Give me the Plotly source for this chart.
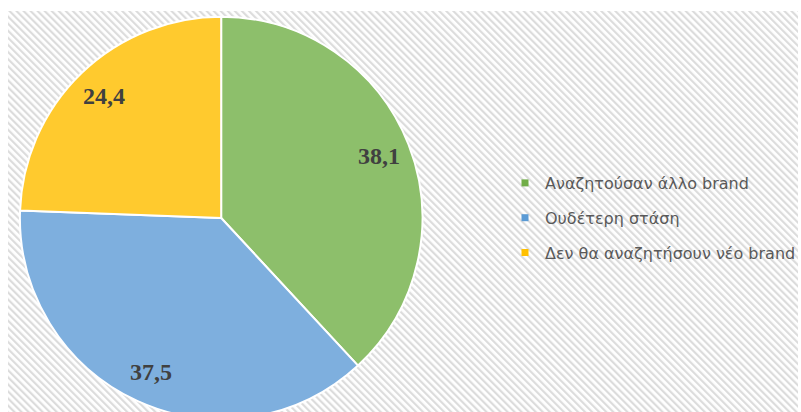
import base64
import math
import plotly.graph_objects as go

# data
labels = ["Αναζητούσαν άλλο brand", "Ουδέτερη στάση", "Δεν θα αναζητήσουν νέο brand"]
values = [38.1, 37.5, 24.4]
colors = ["#8dbf6b", "#7eafde", "#ffca2e"]
legend_colors = ["#70ad47", "#5b9bd5", "#ffc000"]

W, H = 801, 420

# pie placement (pixels)
cx, cy, r = 222, 218, 202

# hatched chart-area background (Excel "wide downward diagonal")
hatch_svg = (
    '<svg xmlns="http://www.w3.org/2000/svg" width="793" height="409" '
    'preserveAspectRatio="none">'
    '<defs><pattern id="p" width="5" height="5" patternUnits="userSpaceOnUse" '
    'patternTransform="rotate(-45)">'
    '<rect width="5" height="5" fill="#ffffff"/>'
    '<rect width="2.2" height="5" fill="#dcdcdc"/></pattern></defs>'
    '<rect width="793" height="409" fill="url(#p)"/></svg>'
)
hatch_src = "data:image/svg+xml;base64," + base64.b64encode(hatch_svg.encode()).decode()

fig = go.Figure()

fig.add_trace(
    go.Pie(
        labels=labels,
        values=values,
        sort=False,
        direction="clockwise",
        rotation=0,
        marker=dict(colors=colors, line=dict(color="white", width=2)),
        textinfo="none",
        hoverinfo="label+value",
        showlegend=False,
        domain=dict(x=[(cx - r) / W, (cx + r) / W], y=[0, 1 - (cy - r) / H]),
    )
)

# data labels placed out toward the rim, like Excel does
total = sum(values)
start = 0.0
annotations = []
for v in values:
    mid = (start + v / 2) / total * 2 * math.pi
    start += v
    px = cx + 0.84 * r * math.sin(mid)
    py = cy - 0.84 * r * math.cos(mid)
    annotations.append(
        dict(
            x=px / W,
            y=1 - py / H,
            xref="paper",
            yref="paper",
            xanchor="center",
            yanchor="middle",
            text=f"{v:.1f}".replace(".", ","),
            showarrow=False,
            font=dict(family="Liberation Serif", size=24, color="#404040", weight="bold"),
        )
    )

# legend entries with small square swatches
for i, (name, c) in enumerate(zip(labels, legend_colors)):
    fig.add_trace(
        go.Scatter(
            x=[None],
            y=[None],
            mode="markers",
            marker=dict(symbol="square", size=7, color=c),
            name=name,
            legendgroup=str(i),
        )
    )

fig.update_layout(
    width=W,
    height=H,
    margin=dict(l=0, r=0, t=0, b=0),
    paper_bgcolor="white",
    plot_bgcolor="rgba(0,0,0,0)",
    xaxis=dict(visible=False),
    yaxis=dict(visible=False),
    annotations=annotations,
    legend=dict(
        x=507 / W,
        y=1 - 166 / H,
        xanchor="left",
        yanchor="top",
        bgcolor="rgba(0,0,0,0)",
        font=dict(family="DejaVu Sans", size=16, color="#595959"),
        tracegroupgap=11,
        traceorder="grouped",
    ),
    images=[
        dict(
            source=hatch_src,
            xref="paper",
            yref="paper",
            x=8 / W,
            y=1 - 11 / H,
            sizex=(W - 8) / W,
            sizey=(H - 11) / H,
            xanchor="left",
            yanchor="top",
            sizing="stretch",
            layer="below",
        )
    ],
)

fig.write_html(
    "out.html",
    config={"displayModeBar": False},
    post_script="document.body.style.margin='0';document.body.style.overflow='hidden';",
)
